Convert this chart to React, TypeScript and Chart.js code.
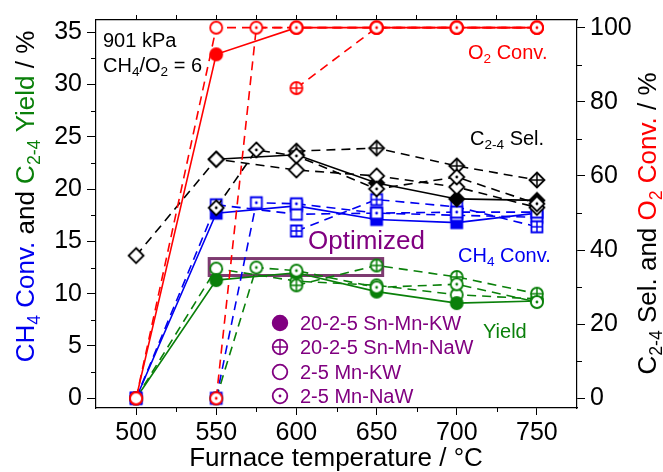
import React, { useEffect, useRef } from 'react';
import { Chart, registerables } from 'chart.js';
Chart.register(...registerables);

const FONT = '"Liberation Sans", Arial, Helvetica, sans-serif';

// Axis ticks
const xTicks = [500, 550, 600, 650, 700, 750];
const xMinorTicks = [525, 575, 625, 675, 725];
const xTopTicks = [500, 525, 550, 575, 600, 625, 650, 675, 700, 725, 750];
const leftTicks = [0, 5, 10, 15, 20, 25, 30, 35];
const leftMinorTicks = [2.5, 7.5, 12.5, 17.5, 22.5, 27.5, 32.5];
const rightTicks = [0, 20, 40, 60, 80, 100];
const rightMinorTicks = [10, 30, 50, 70, 90];

const catalysts = ['20-2-5 Sn-Mn-KW', '20-2-5 Sn-Mn-NaW', '2-5 Mn-KW', '2-5 Mn-NaW'];

// 20-2-5 Sn-Mn-KW (filled, solid)
const tempKW = [500, 550, 600, 650, 700, 750];
const o2KW = [0, 92.8, 100, 100, 100, 100];
const selKW = [null, 64.5, 65.7, 58.1, 53.8, 53.4];
const ch4KW = [0, 17.7, 18.4, 17.1, 16.8, 17.7];
const yieldKW = [0, 11.3, 12.0, 10.2, 9.1, 9.3];

// 20-2-5 Sn-Mn-NaW (crossed, dashed)
const tempNaW = [600, 650, 700, 750];
const o2NaW = [83.7, 100, 100, 100];
const selNaW = [66.7, 67.5, 62.7, 58.9];
const ch4NaW = [16.0, 19.0, 18.3, 16.4];
const yieldNaW = [10.8, 12.7, 11.6, 10.0];

// 2-5 Mn-KW (open, dashed)
const tempMnKW = [500, 550, 600, 650, 700, 750];
const o2MnKW = [0, 100, 100, 100, 100, 100];
const selMnKW = [38.5, 64.5, 61.6, 60.0, 57.0, 51.5];
const ch4MnKW = [0, 18.5, 17.6, 17.7, 17.5, 17.3];
const yieldMnKW = [0, 12.4, 11.2, 10.8, 9.9, 9.5];

// 2-5 Mn-NaW (dotted, dashed)
const tempMnNaW = [550, 575, 600, 650, 700, 750];
const o2MnNaW = [0, 100, 100, 100, 100, 100];
const selMnNaW = [51.4, 67.0, 65.4, 56.5, 59.7, 52.5];
const ch4MnNaW = [0, 18.7, 18.6, 17.7, 17.8, 17.8];
const yieldMnNaW = [0, 12.5, 12.2, 10.6, 10.9, 9.2];

// "Optimized" box (x range in °C, y range in %)
const optX = [545.6, 653.8];
const optY = [11.74, 13.36];

const RED = '#ff0000';
const BLUE = '#0000f0';
const GREEN = '#0a800a';
const BLACK = '#000000';
const PURPLE = '#800080';

type Seg = { t: string; sub?: boolean; color?: string };

function drawRich(ctx: CanvasRenderingContext2D, segs: Seg[], x: number, y: number, size: number, align: 'left' | 'center', color: string) {
  const subSize = size * 0.68;
  let total = 0;
  const widths = segs.map((s) => {
    ctx.font = `${s.sub ? subSize : size}px ${FONT}`;
    const w = ctx.measureText(s.t).width;
    total += w;
    return w;
  });
  let cx = align === 'center' ? x - total / 2 : x;
  ctx.textAlign = 'left';
  ctx.textBaseline = 'alphabetic';
  segs.forEach((s, i) => {
    ctx.font = `${s.sub ? subSize : size}px ${FONT}`;
    ctx.fillStyle = s.color || color;
    ctx.fillText(s.t, cx, s.sub ? y + size * 0.22 : y);
    cx += widths[i];
  });
}

function makeMarker(shape: string, deco: string, color: string, r: number) {
  const size = Math.ceil(r * 2 + 6) + (Math.ceil(r * 2 + 6) % 2);
  const c = document.createElement('canvas');
  c.width = size;
  c.height = size;
  const ctx = c.getContext('2d')!;
  const m = size / 2;
  ctx.lineWidth = 1.8;
  ctx.strokeStyle = color;
  ctx.fillStyle = deco === 'filled' ? color : '#ffffff';
  ctx.beginPath();
  if (shape === 'circle') ctx.arc(m, m, r, 0, Math.PI * 2);
  else if (shape === 'square') ctx.rect(m - r, m - r, 2 * r, 2 * r);
  else {
    ctx.moveTo(m, m - r);
    ctx.lineTo(m + r, m);
    ctx.lineTo(m, m + r);
    ctx.lineTo(m - r, m);
    ctx.closePath();
  }
  ctx.fill();
  ctx.stroke();
  if (deco === 'cross') {
    ctx.beginPath();
    ctx.lineWidth = 1.5;
    ctx.moveTo(m - r, m);
    ctx.lineTo(m + r, m);
    ctx.moveTo(m, m - r);
    ctx.lineTo(m, m + r);
    ctx.stroke();
  }
  if (deco === 'dot') {
    ctx.beginPath();
    ctx.fillStyle = color;
    ctx.arc(m, m, 1.4, 0, Math.PI * 2);
    ctx.fill();
  }
  return c;
}

export default function App() {
  const ref = useRef<HTMLCanvasElement>(null);
  useEffect(() => {
    const canvas = ref.current!;
    const temps = [tempKW, tempNaW, tempMnKW, tempMnNaW];
    const decos = ['filled', 'cross', 'open', 'dot'];
    const dashes = [[], [9, 6], [9, 6], [9, 6]];
    const groups = [
      { color: RED, axis: 'y2', shape: 'circle', r: 6, series: [o2KW, o2NaW, o2MnKW, o2MnNaW], prio: [3, 1, 2, 0] },
      { color: BLACK, axis: 'y2', shape: 'diamond', r: 7.5, series: [selKW, selNaW, selMnKW, selMnNaW], prio: [3, 1, 2, 0] },
      { color: BLUE, axis: 'y', shape: 'square', r: 5.5, series: [ch4KW, ch4NaW, ch4MnKW, ch4MnNaW], prio: [3, 1, 2, 0] },
      { color: GREEN, axis: 'y', shape: 'circle', r: 6, series: [yieldKW, yieldNaW, yieldMnKW, yieldMnNaW], prio: [3, 1, 0, 2] },
    ];
    const datasets: any[] = [];
    groups.forEach((g) => {
      g.prio.forEach((ci) => {
        const vals = g.series[ci];
        datasets.push({
          label: catalysts[ci],
          data: temps[ci].map((t, i) => ({ x: t, y: vals[i] })),
          xAxisID: 'x',
          yAxisID: g.axis,
          borderColor: g.color,
          borderWidth: 1.6,
          borderDash: dashes[ci],
          pointStyle: makeMarker(g.shape, decos[ci], g.color, g.r),
          pointRadius: 6,
          pointHoverRadius: 6,
          fill: false,
          tension: 0,
          spanGaps: false,
        });
      });
    });

    const tickFont = { family: FONT, size: 25 };
    const grid = (len: number) => ({ drawOnChartArea: false, drawTicks: true, tickLength: len, tickColor: '#000', tickWidth: 1 });
    const border = { display: true, color: '#000', width: 1.2 };

    const annot = {
      id: 'annot',
      beforeDatasetsDraw(chart: any) {
        const { ctx } = chart;
        const { x, y } = chart.scales;
        const x0 = x.getPixelForValue(optX[0]);
        const x1 = x.getPixelForValue(optX[1]);
        const y0 = y.getPixelForValue(optY[1]);
        const y1 = y.getPixelForValue(optY[0]);
        ctx.save();
        ctx.strokeStyle = '#7d3a70';
        ctx.lineWidth = 3;
        ctx.strokeRect(x0, y0, x1 - x0, y1 - y0);
        ctx.restore();
      },
      afterDraw(chart: any) {
        const { ctx } = chart;
        const { x, y, y2 } = chart.scales;
        ctx.save();
        ctx.strokeStyle = '#000';
        ctx.lineWidth = 1;
        ctx.beginPath();
        xMinorTicks.forEach((v) => {
          const px = Math.round(x.getPixelForValue(v)) + 0.5;
          ctx.moveTo(px, x.top);
          ctx.lineTo(px, x.top + 4);
        });
        leftMinorTicks.forEach((v) => {
          const py = Math.round(y.getPixelForValue(v)) + 0.5;
          ctx.moveTo(y.right - 5, py);
          ctx.lineTo(y.right, py);
        });
        rightMinorTicks.forEach((v) => {
          const py = Math.round(y2.getPixelForValue(v)) + 0.5;
          ctx.moveTo(y2.left, py);
          ctx.lineTo(y2.left + 5, py);
        });
        ctx.stroke();

        // annotations
        drawRich(ctx, [{ t: '901 kPa' }], 103, 47, 20, 'left', BLACK);
        drawRich(ctx, [{ t: 'CH' }, { t: '4', sub: true }, { t: '/O' }, { t: '2', sub: true }, { t: ' = 6' }], 103, 72, 20, 'left', BLACK);
        drawRich(ctx, [{ t: 'O' }, { t: '2', sub: true }, { t: ' Conv.' }], 468, 59, 20, 'left', RED);
        drawRich(ctx, [{ t: 'C' }, { t: '2-4', sub: true }, { t: ' Sel.' }], 470, 145, 20, 'left', BLACK);
        drawRich(ctx, [{ t: 'CH' }, { t: '4', sub: true }, { t: ' Conv.' }], 458, 262, 20, 'left', BLUE);
        drawRich(ctx, [{ t: 'Yield' }], 483, 338, 20, 'left', GREEN);
        drawRich(ctx, [{ t: 'Optimized' }], 308, 249, 26, 'left', PURPLE);

        // legend
        const legY = [323, 347, 372, 396];
        const legBase = [330, 354, 379, 403];
        catalysts.forEach((name, i) => {
          const mk = makeMarker('circle', decos[i], PURPLE, 7.3);
          ctx.drawImage(mk, 280 - mk.width / 2, legY[i] - mk.height / 2);
          drawRich(ctx, [{ t: name }], 300, legBase[i], 20, 'left', PURPLE);
        });

        // axis titles
        drawRich(ctx, [{ t: 'Furnace temperature / °C' }], 336, 466, 26, 'center', BLACK);
        ctx.save();
        ctx.translate(34, 196.5);
        ctx.rotate(-Math.PI / 2);
        drawRich(ctx, [
          { t: 'CH', color: BLUE }, { t: '4', sub: true, color: BLUE }, { t: ' Conv.', color: BLUE },
          { t: ' and ' },
          { t: 'C', color: GREEN }, { t: '2-4', sub: true, color: GREEN }, { t: ' Yield', color: GREEN },
          { t: ' / %' },
        ], 0, 0, 26, 'center', BLACK);
        ctx.restore();
        ctx.save();
        ctx.translate(656, 223.5);
        ctx.rotate(-Math.PI / 2);
        drawRich(ctx, [
          { t: 'C' }, { t: '2-4', sub: true }, { t: ' Sel. and ' },
          { t: 'O', color: RED }, { t: '2', sub: true, color: RED }, { t: ' Conv.', color: RED },
          { t: ' / %' },
        ], 0, 0, 26, 'center', BLACK);
        ctx.restore();
        ctx.restore();
      },
    };

    const chart = new Chart(canvas, {
      type: 'line',
      data: { datasets },
      options: {
        responsive: false,
        animation: false,
        devicePixelRatio: 1,
        layout: { padding: 0 },
        plugins: { legend: { display: false }, tooltip: { enabled: false } },
        scales: {
          x: {
            type: 'linear', position: 'bottom', min: 475, max: 775,
            afterBuildTicks: (s: any) => { s.ticks = xTicks.map((v) => ({ value: v })); },
            afterFit: (s: any) => { s.height = 64; },
            ticks: { font: tickFont, color: '#000', padding: 3, maxRotation: 0, autoSkip: false, callback: (v: any) => String(v) },
            grid: grid(7), border,
          },
          xTop: {
            type: 'linear', position: 'top', min: 475, max: 775,
            afterBuildTicks: (s: any) => { s.ticks = xTopTicks.map((v) => ({ value: v })); },
            afterFit: (s: any) => { s.height = 19; },
            ticks: { display: false },
            grid: grid(5), border,
          },
          y: {
            type: 'linear', position: 'left', min: -0.93, max: 36.17,
            afterBuildTicks: (s: any) => { s.ticks = leftTicks.map((v) => ({ value: v })); },
            afterFit: (s: any) => { s.width = 96; },
            ticks: { font: tickFont, color: '#000', padding: 5, autoSkip: false, callback: (v: any) => String(v) },
            grid: grid(9), border,
          },
          y2: {
            type: 'linear', position: 'right', min: -2.61, max: 102.07,
            afterBuildTicks: (s: any) => { s.ticks = rightTicks.map((v) => ({ value: v })); },
            afterFit: (s: any) => { s.width = 86; },
            ticks: { font: tickFont, color: '#000', padding: 5, autoSkip: false, callback: (v: any) => String(v) },
            grid: grid(8), border,
          },
        },
      } as any,
      plugins: [annot],
    });
    return () => chart.destroy();
  }, []);
  return (
    <div style={{ position: 'fixed', left: 0, top: 0, width: 663, height: 472, background: '#fff' }}>
      <canvas ref={ref} width={663} height={472} style={{ display: 'block', width: 663, height: 472 }} />
    </div>
  );
}
